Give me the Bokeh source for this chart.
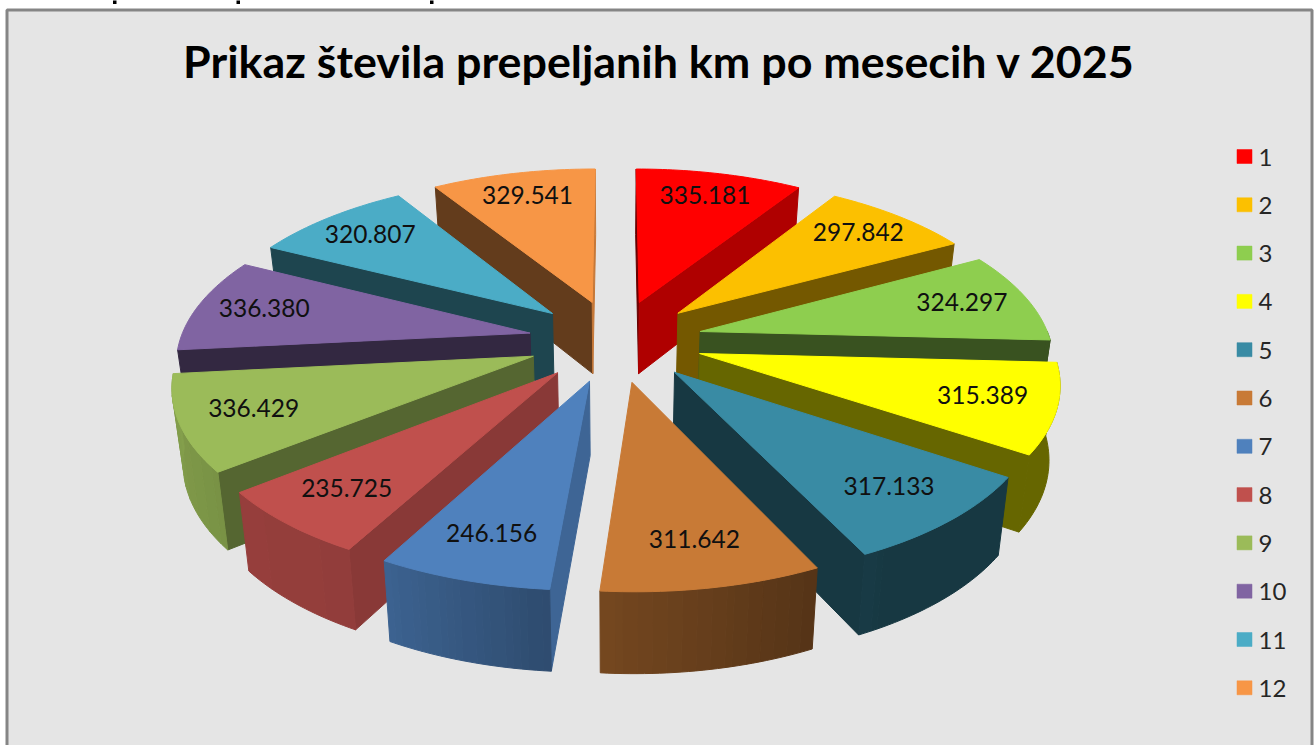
import math
import numpy as np
from bokeh.plotting import figure
from bokeh.models import ColumnDataSource, Range1d
from bokeh.core.properties import value
from bokeh.embed import file_html
from bokeh.resources import INLINE

# ---- data ----
TITLE = "Prikaz števila prepeljanih km po mesecih v 2025"
months = ["1", "2", "3", "4", "5", "6", "7", "8", "9", "10", "11", "12"]
km = [335181, 297842, 324297, 315389, 317133, 311642, 246156, 235725, 336429, 336380, 320807, 329541]
colors = ["#ff0000", "#fcc000", "#8ece4f", "#ffff00", "#398ba4", "#c87a36",
          "#4f81bd", "#c0504d", "#9bbb59", "#8064a2", "#4bacc6", "#f79646"]

# ---- view model of the tilted, exploded pie ----
W, H = 1314, 745
CX, CY = 615.0, 340.0
RX, RY = 350.0, 164.0
PERSP = 0.15
EXPLODE = 0.25
DEPTH, DEPTH_PERSP = 72.7, 0.09
BOTTOM_SCALE = 0.975
LABEL_R = 0.80
LABEL_DY = -2.0


def project(X, Y):
    w = 1 + PERSP * Y
    return CX + RX * X / w, CY - RY * Y / w


def project_bottom(X, Y):
    x, y = project(X, Y)
    return CX + (x - CX) * BOTTOM_SCALE, y + DEPTH / (1 + DEPTH_PERSP * Y)


def shade(c, f):
    r, g, b = int(c[1:3], 16), int(c[3:5], 16), int(c[5:7], 16)
    return "#%02x%02x%02x" % (round(r * f), round(g * f), round(b * f))


def wall_factor(theta):
    f = float(np.interp(theta, [90, 150, 184, 208, 231, 264, 270],
                        [.40, .40, .58, .76, .78, .85, .85]))
    return round(f / 0.01) * 0.01


def face_factor(normal):
    return float(np.interp(normal % 360, [90, 118, 122, 141, 151, 170],
                           [.80, .72, .69, .55, .46, .40]))


total = sum(km)
edges = np.cumsum([0] + km) / total * 360.0
slices = []
for i in range(len(km)):
    a0, a1 = edges[i], edges[i + 1]
    mid = math.radians((a0 + a1) / 2)
    slices.append((math.cos(mid), i, a0, a1, math.sin(mid), math.cos(mid)))

xs, ys, fills = [], [], []


def add(px, py, c):
    xs.append(list(px))
    ys.append(list(py))
    fills.append(c)


def visible(ax, ay, bx, by, ix, iy):
    # the side hanging below edge A-B shows if "down" leaves the slice
    c_in = (bx - ax) * (iy - ay) - (by - ay) * (ix - ax)
    c_down = (bx - ax) * 1.0
    return c_in * c_down < 0


for _, i, a0, a1, ux, uy in sorted(slices, key=lambda s: -s[0]):
    ox, oy = EXPLODE * ux, EXPLODE * uy
    n = max(2, int((a1 - a0) / 1.0))
    angles = np.linspace(a0, a1, n + 1)
    rim = [(ox + math.sin(math.radians(t)), oy + math.cos(math.radians(t))) for t in angles]
    top = [project(*q) for q in rim]
    bot = [project_bottom(*q) for q in rim]
    apex_t, apex_b = project(ox, oy), project_bottom(ox, oy)
    inner = project(ox + 0.6 * ux, oy + 0.6 * uy)

    # radial faces
    for idx, normal in ((0, a0 - 90), (-1, a1 + 90)):
        if visible(apex_t[0], apex_t[1], top[idx][0], top[idx][1], inner[0], inner[1]):
            c = shade(colors[i], face_factor(normal))
            add([apex_t[0], top[idx][0], bot[idx][0], apex_b[0]],
                [apex_t[1], top[idx][1], bot[idx][1], apex_b[1]], c)
    # outer wall: runs of rim steps that share one shade
    runs = []
    for k in range(n):
        tm = (angles[k] + angles[k + 1]) / 2
        if 90 <= tm <= 264.5:
            f = wall_factor(tm)
            if runs and runs[-1][0] == f and runs[-1][2] == k:
                runs[-1][2] = k + 1
            else:
                runs.append([f, k, k + 1])
    for f, k0, k1 in runs:
        c = shade(colors[i], f)
        add([q[0] for q in top[k0:k1 + 1]] + [q[0] for q in bot[k0:k1 + 1]][::-1],
            [q[1] for q in top[k0:k1 + 1]] + [q[1] for q in bot[k0:k1 + 1]][::-1], c)
    # top
    add([apex_t[0]] + [q[0] for q in top], [apex_t[1]] + [q[1] for q in top], colors[i])

# ---- data labels ----
lab_x, lab_y, lab_t = [], [], []
for i in range(len(km)):
    mid = math.radians((edges[i] + edges[i + 1]) / 2)
    r = LABEL_R + EXPLODE
    x, y = project(r * math.sin(mid), r * math.cos(mid))
    lab_x.append(x)
    lab_y.append(y + LABEL_DY)
    lab_t.append(f"{km[i]:,}".replace(",", "."))

p = figure(width=W, height=H, x_range=Range1d(0, W), y_range=Range1d(H, 0),
           output_backend="svg", toolbar_location=None, min_border=0,
           background_fill_color="#ffffff", border_fill_color="#ffffff",
           outline_line_color=None, x_axis_type=None, y_axis_type=None)
p.grid.visible = False
p.styles = {"position": "absolute", "left": "0", "top": "0"}

# chart area and frame
p.quad(left=[6.5], right=[1311.5], top=[9.5], bottom=[760], fill_color="#e5e5e5",
       line_color="#858585", line_width=3)
# remains of a line of text cut off above the chart
p.quad(left=[112.5, 236, 429.5], right=[116, 239.5, 433], top=[-1, -1, -1], bottom=[3.5, 3.5, 3.5],
       fill_color="#000000", line_color=None)

p.patches("xs", "ys", source=ColumnDataSource(dict(xs=xs, ys=ys, c=fills)),
          fill_color="c", line_color="c", line_width=1.0)

p.text(lab_x, lab_y, text=lab_t, text_align="center", text_baseline="middle",
       text_font=value("Lato"), text_font_size="24.5px", text_color="#101010")

p.text([659], [60], text=[TITLE], text_align="center", text_baseline="middle",
       text_font=value("Lato"), text_font_style="bold", text_font_size="44.8px",
       text_color="#000000")

# legend
LEG_Y0, LEG_STEP = 156.0, 48.3
leg_y = [LEG_Y0 + LEG_STEP * i for i in range(len(months))]
p.quad(left=[1236.5] * 12, right=[1251.5] * 12, top=[y - 7 for y in leg_y],
       bottom=[y + 7 for y in leg_y], fill_color=colors, line_color=colors,
       line_alpha=0.5, line_width=1)
p.text([1258] * 12, [y + 0.5 for y in leg_y], text=months, text_align="left",
       text_baseline="middle", text_font=value("Lato"), text_font_size="24px",
       text_color="#262626")

open("out.html", "w").write(file_html(p, INLINE))
